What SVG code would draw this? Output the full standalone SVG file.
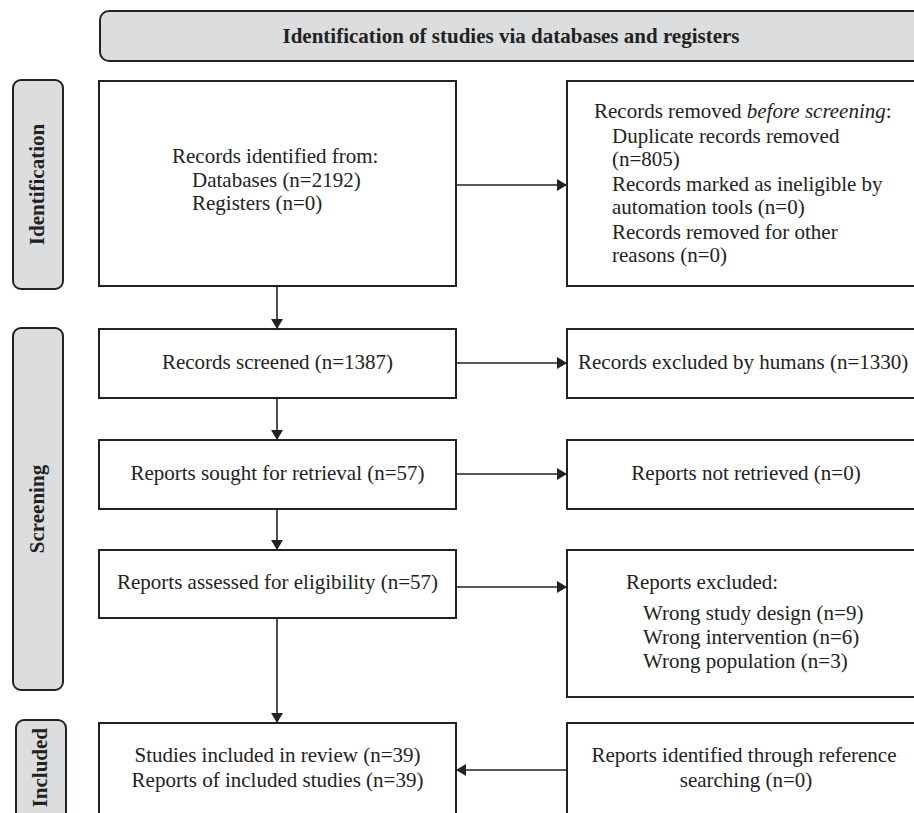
<svg xmlns="http://www.w3.org/2000/svg" width="914" height="813" viewBox="0 0 914 813">
<style>
.box{fill:#fff;stroke:#222;stroke-width:2}
.lab{fill:#dcdddf;stroke:#222;stroke-width:2}
.t{font-family:"Liberation Serif","Times New Roman",serif;font-size:21px;fill:#222}
.b{font-weight:bold}
.c{text-anchor:middle}
.ln{stroke:#222;stroke-width:1.6;fill:none}
</style>
<defs>
<marker id="ah" viewBox="0 0 10 12" refX="10" refY="6" markerWidth="10" markerHeight="12" markerUnits="userSpaceOnUse" orient="auto">
<path d="M0,0 L10,6 L0,12 Z" fill="#222"/>
</marker>
</defs>
<rect width="914" height="813" fill="#fff"/>

<g id="header">
<rect class="lab" x="100" y="11" width="840" height="50" rx="9"/>
<text class="t b c" x="511" y="43">Identification of studies via databases and registers</text>
</g>

<g id="label-identification">
<rect class="lab" x="13" y="80" width="50" height="209" rx="8"/>
<text class="t b c" transform="translate(43.5,184.5) rotate(-90)">Identification</text>
</g>
<g id="label-screening">
<rect class="lab" x="13" y="328" width="50" height="362" rx="8"/>
<text class="t b c" transform="translate(43.5,509) rotate(-90)">Screening</text>
</g>
<g id="label-included">
<rect class="lab" x="16" y="720" width="50" height="120" rx="8"/>
<text class="t b" text-anchor="end" transform="translate(47,728) rotate(-90)">Included</text>
</g>

<g id="records-identified">
<rect class="box" x="99" y="81" width="357" height="205"/>
<text class="t" x="172" y="163">Records identified from:</text>
<text class="t" x="192" y="187">Databases (n=2192)</text>
<text class="t" x="192" y="210">Registers (n=0)</text>
</g>

<g id="records-removed">
<rect class="box" x="567" y="81" width="360" height="205"/>
<text class="t" x="594" y="118">Records removed <tspan font-style="italic">before screening</tspan>:</text>
<text class="t" x="612" y="143">Duplicate records removed</text>
<text class="t" x="612" y="166">(n=805)</text>
<text class="t" x="612" y="191">Records marked as ineligible by</text>
<text class="t" x="612" y="214">automation tools (n=0)</text>
<text class="t" x="612" y="239">Records removed for other</text>
<text class="t" x="612" y="262">reasons (n=0)</text>
</g>

<g id="records-screened">
<rect class="box" x="99" y="329" width="357" height="69"/>
<text class="t c" x="277.5" y="369">Records screened (n=1387)</text>
</g>
<g id="records-excluded">
<rect class="box" x="567" y="329" width="360" height="69"/>
<text class="t" x="578" y="369">Records excluded by humans (n=1330)</text>
</g>

<g id="reports-sought">
<rect class="box" x="99" y="440" width="357" height="69"/>
<text class="t c" x="277.5" y="480">Reports sought for retrieval (n=57)</text>
</g>
<g id="reports-not-retrieved">
<rect class="box" x="567" y="440" width="360" height="69"/>
<text class="t c" x="746" y="480">Reports not retrieved (n=0)</text>
</g>

<g id="reports-assessed">
<rect class="box" x="99" y="550" width="357" height="68"/>
<text class="t c" x="277.5" y="589">Reports assessed for eligibility (n=57)</text>
</g>
<g id="reports-excluded">
<rect class="box" x="567" y="550" width="360" height="147"/>
<text class="t" x="626" y="589">Reports excluded:</text>
<text class="t" x="643" y="620">Wrong study design (n=9)</text>
<text class="t" x="643" y="644">Wrong intervention (n=6)</text>
<text class="t" x="643" y="668">Wrong population (n=3)</text>
</g>

<g id="studies-included">
<rect class="box" x="99" y="723" width="357" height="120"/>
<text class="t c" x="277.5" y="762">Studies included in review (n=39)</text>
<text class="t c" x="277.5" y="787">Reports of included studies (n=39)</text>
</g>
<g id="reports-reference">
<rect class="box" x="567" y="723" width="360" height="120"/>
<text class="t c" x="744" y="762">Reports identified through reference</text>
<text class="t c" x="746" y="787">searching (n=0)</text>
</g>

<g id="connectors">
<line class="ln" x1="456" y1="185" x2="567" y2="185" marker-end="url(#ah)"/>
<line class="ln" x1="277" y1="286" x2="277" y2="329" marker-end="url(#ah)"/>
<line class="ln" x1="456" y1="363" x2="567" y2="363" marker-end="url(#ah)"/>
<line class="ln" x1="277" y1="398" x2="277" y2="440" marker-end="url(#ah)"/>
<line class="ln" x1="456" y1="474" x2="567" y2="474" marker-end="url(#ah)"/>
<line class="ln" x1="277" y1="509" x2="277" y2="550" marker-end="url(#ah)"/>
<line class="ln" x1="456" y1="587" x2="567" y2="587" marker-end="url(#ah)"/>
<line class="ln" x1="277" y1="618" x2="277" y2="723" marker-end="url(#ah)"/>
<line class="ln" x1="567" y1="770" x2="456" y2="770" marker-end="url(#ah)"/>
</g>
</svg>
